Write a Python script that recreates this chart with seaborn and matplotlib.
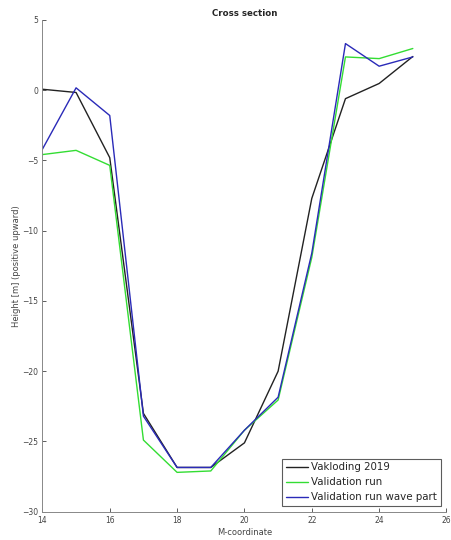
import numpy as np
import pandas as pd
import matplotlib
matplotlib.use("Agg")
import matplotlib.pyplot as plt
import seaborn as sns

m_coord = [14, 15, 16, 17, 18, 19, 20, 21, 22, 23, 24, 25]
vakloding_2019 = [0.07, -0.16, -4.8, -23.0, -26.85, -26.85, -25.1, -20.0, -7.7, -0.6, 0.48, 2.4]
validation_run = [-4.58, -4.28, -5.35, -24.9, -27.2, -27.1, -24.2, -22.05, -11.9, 2.37, 2.25, 2.97]
validation_wave = [-4.2, 0.17, -1.8, -23.2, -26.85, -26.85, -24.2, -21.85, -11.6, 3.32, 1.71, 2.37]
series_names = ["Vakloding 2019", "Validation run", "Validation run wave part"]
series_colors = ["#222222", "#33dd33", "#2a2ab8"]
x_ticks = [14, 16, 18, 20, 22, 24, 26]
y_ticks = [-30, -25, -20, -15, -10, -5, 0, 5]

df = pd.concat([
    pd.DataFrame({"M": m_coord, "H": vals, "series": name})
    for name, vals in zip(series_names, [vakloding_2019, validation_run, validation_wave])
])

sns.set_theme(style="ticks")
plt.rcParams["font.family"] = ["DejaVu Sans"]

fig = plt.figure(figsize=(4.51, 5.40), dpi=100)
ax = fig.add_axes([0.094, 0.0524, 0.896, 0.9106])

sns.lineplot(data=df, x="M", y="H", hue="series", palette=dict(zip(series_names, series_colors)),
             hue_order=series_names, ax=ax, linewidth=1.0, estimator=None, sort=False)

ax.set_xlim(14, 26)
ax.set_ylim(-30, 5)
ax.set_xticks(x_ticks)
ax.set_yticks(y_ticks)
ax.tick_params(direction="in", length=3, width=0.6, colors="#444444", labelsize=5.5, pad=3)
for s in ["top", "right"]:
    ax.spines[s].set_visible(False)
for s in ["left", "bottom"]:
    ax.spines[s].set_color("#888888")
    ax.spines[s].set_linewidth(0.7)
ax.set_xlabel("M-coordinate", fontsize=6, color="#444444", labelpad=2)
ax.set_ylabel("Height [m] (positive upward)", fontsize=6, color="#444444", labelpad=1)
ax.set_title("Cross section", fontsize=6.2, fontweight="bold", pad=3)

leg = ax.legend(loc="lower right", fontsize=7.4, frameon=True, fancybox=False,
                edgecolor="#333333", borderpad=0.35, handlelength=2.2, handletextpad=0.3,
                labelspacing=0.5, borderaxespad=0.55)
leg.get_frame().set_linewidth(0.8)

fig.savefig("out.png", dpi=100)
